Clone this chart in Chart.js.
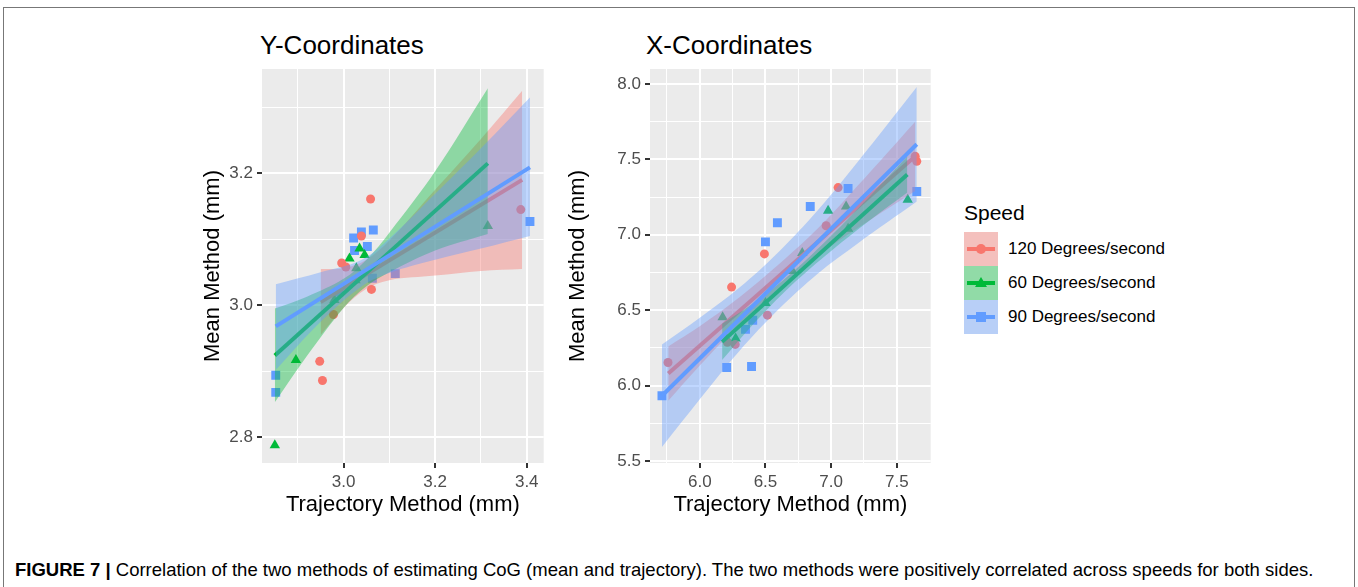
<!DOCTYPE html>
<html>
<head>
<meta charset="utf-8">
<script src="https://cdn.jsdelivr.net/npm/chart.js@4.4.0/dist/chart.umd.min.js"></script>
<style>
  body { margin: 0; width: 1358px; height: 587px; background: #fff; position: relative; overflow: hidden;
         font-family: 'Liberation Sans', Arial, sans-serif; }
  #frame { position: absolute; left: 3px; top: 7px; width: 1352px; height: 590px; border: 1px solid #777; box-sizing: border-box; }
  .ptitle { position: absolute; font-size: 26px; line-height: 1; color: #000; }
  canvas { position: absolute; }
  #legend { position: absolute; left: 964px; top: 200px; }
  #legend .ltitle { font-size: 21px; line-height: 26px; height: 32px; color: #000; }
  #legend .item { position: relative; height: 34px; }
  #legend .key { position: absolute; left: 0; top: 0; width: 34px; height: 34px; background: #F2F2F2; }
  #legend .key .fillbox { position: absolute; left: 0; top: 0; width: 34px; height: 34px; }
  #legend .key .kline { position: absolute; left: 3px; top: 15px; width: 28px; height: 4px; }
  #legend .ltext { position: absolute; left: 44px; top: 0; line-height: 34px; font-size: 17px; color: #000; white-space: nowrap; }
  #caption { position: absolute; left: 15px; top: 561px; font-size: 18.5px; line-height: 1; color: #000; white-space: nowrap; }
</style>
</head>
<body>
<div id="frame"></div>
<div class="ptitle" style="left:260px;top:32px">Y-Coordinates</div>
<div class="ptitle" style="left:646px;top:32px">X-Coordinates</div>
<canvas id="leftChart" width="370" height="458" style="left:180px;top:60px"></canvas>
<canvas id="rightChart" width="392" height="458" style="left:545px;top:60px"></canvas>
<div id="legend"></div>
<div id="caption"><b>FIGURE 7 |</b> Correlation of the two methods of estimating CoG (mean and trajectory). The two methods were positively correlated across speeds for both sides.</div>

<script>
// Series order: 120, 60, 90 Degrees/second
const speedLabels = ['120 Degrees/second', '60 Degrees/second', '90 Degrees/second'];
const speedColors = ['#F8766D', '#00BA38', '#619CFF'];
const speedFills = ['rgba(248,118,109,0.4)', 'rgba(0,186,56,0.4)', 'rgba(97,156,255,0.4)'];
const speedShapes = ['circle', 'triangle', 'rect'];
const shapeRadius = [4.5, 6, 6.3];

// --- Y-Coordinates panel ---
const y120X = [3.059, 2.948, 2.954, 3.387, 3.061, 2.978, 2.996, 3.005, 3.039];
const y120Y = [3.161, 2.915, 2.886, 3.145, 3.024, 2.986, 3.064, 3.058, 3.105];
const y60X = [2.850, 2.896, 3.315, 3.035, 3.013, 3.028, 3.046, 3.026, 2.980];
const y60Y = [2.788, 2.917, 3.120, 3.086, 3.071, 3.056, 3.076, 3.038, 3.008];
const y90X = [2.852, 2.852, 3.022, 3.039, 3.065, 3.024, 3.052, 3.113, 3.063, 3.407, 2.990];
const y90Y = [2.894, 2.868, 3.102, 3.111, 3.114, 3.083, 3.089, 3.048, 3.041, 3.127, 3.020];

const yFit120X = [2.95, 3.39], yFit120Y = [3.005, 3.19];
const yFit60X = [2.85, 3.315], yFit60Y = [2.924, 3.215];
const yFit90X = [2.852, 3.407], yFit90Y = [2.968, 3.209];

const yBand120X = [2.95, 3.0, 3.05, 3.1, 3.2, 3.3, 3.39];
const yBand120Hi = [3.055, 3.056, 3.069, 3.098, 3.175, 3.252, 3.325];
const yBand120Lo = [2.955, 2.996, 3.025, 3.038, 3.045, 3.052, 3.055];
const yBand60X = [2.85, 2.92, 3.0, 3.05, 3.1, 3.2, 3.315];
const yBand60Hi = [2.995, 3.013, 3.040, 3.069, 3.110, 3.203, 3.329];
const yBand60Lo = [2.853, 2.923, 2.996, 3.029, 3.050, 3.083, 3.108];
const yBand90X = [2.852, 2.95, 3.04, 3.1, 3.2, 3.3, 3.407];
const yBand90Hi = [3.032, 3.050, 3.069, 3.101, 3.169, 3.238, 3.315];
const yBand90Lo = [2.902, 2.975, 3.029, 3.049, 3.069, 3.086, 3.105];

const yPanelXMajor = [3.0, 3.2, 3.4], yPanelXMinor = [2.9, 3.1, 3.3];
const yPanelYMajor = [2.8, 3.0, 3.2], yPanelYMinor = [2.9, 3.1, 3.3];

// --- X-Coordinates panel ---
const x120X = [5.758, 6.242, 6.492, 6.515, 6.210, 6.270, 7.053, 6.962, 7.652, 7.640];
const x120Y = [6.153, 6.653, 6.873, 6.467, 6.287, 6.273, 7.313, 7.060, 7.487, 7.520];
const x60X = [6.174, 6.205, 6.273, 6.500, 6.705, 6.977, 7.114, 7.129, 7.583, 6.780];
const x60Y = [6.453, 6.307, 6.313, 6.547, 6.760, 7.160, 7.187, 7.040, 7.233, 6.880];
const x90X = [5.712, 6.205, 6.394, 6.348, 6.403, 6.500, 6.591, 6.841, 7.129, 7.652];
const x90Y = [5.933, 6.120, 6.127, 6.373, 6.433, 6.953, 7.080, 7.187, 7.307, 7.287];

const xFit120X = [5.76, 7.64], xFit120Y = [6.08, 7.52];
const xFit60X = [6.17, 7.58], xFit60Y = [6.29, 7.40];
const xFit90X = [5.712, 7.652], xFit90Y = [5.933, 7.60];

const xBand120X = [5.76, 6.0, 6.3, 6.6, 6.9, 7.2, 7.64];
const xBand120Hi = [6.26, 6.394, 6.584, 6.803, 7.043, 7.323, 7.75];
const xBand120Lo = [5.90, 6.134, 6.404, 6.643, 6.863, 7.043, 7.29];
const xBand60X = [6.17, 6.4, 6.7, 7.0, 7.3, 7.58];
const xBand60Hi = [6.41, 6.541, 6.747, 6.993, 7.26, 7.52];
const xBand60Lo = [6.17, 6.401, 6.667, 6.893, 7.10, 7.28];
const xBand90X = [5.712, 6.0, 6.3, 6.6, 6.9, 7.2, 7.652];
const xBand90Hi = [6.273, 6.450, 6.648, 6.886, 7.164, 7.481, 7.980];
const xBand90Lo = [5.593, 5.910, 6.228, 6.506, 6.744, 6.941, 7.220];

const xPanelXMajor = [6.0, 6.5, 7.0, 7.5], xPanelXMinor = [5.75, 6.25, 6.75, 7.25];
const xPanelYMajor = [5.5, 6.0, 6.5, 7.0, 7.5, 8.0], xPanelYMinor = [5.75, 6.25, 6.75, 7.25, 7.75];

const FONT = "'Liberation Sans', Arial, sans-serif";

function pts(xs, ys) {
    return xs.map((x, i) => ({ x: x, y: ys[i] }));
}

function buildDatasets(groups) {
    const ds = [];
    // points sit under the smooths
    groups.forEach((g, k) => {
        ds.push({
            data: pts(g.px, g.py),
            showLine: false,
            pointStyle: speedShapes[k],
            pointRadius: shapeRadius[k],
            pointBackgroundColor: speedColors[k],
            pointBorderWidth: 0,
            borderColor: 'transparent',
            borderWidth: 0,
            order: 20
        });
    });
    groups.forEach((g, k) => {
        const base = 12 - 3 * k;
        ds.push({
            data: pts(g.bx, g.lo),
            borderWidth: 0, borderColor: 'transparent',
            pointRadius: 0, tension: 0.35, fill: false,
            order: base
        });
        ds.push({
            data: pts(g.bx, g.hi),
            borderWidth: 0, borderColor: 'transparent',
            pointRadius: 0, tension: 0.35,
            fill: '-1', backgroundColor: speedFills[k],
            order: base - 1
        });
        ds.push({
            data: pts(g.fx, g.fy),
            borderWidth: 4, borderColor: speedColors[k],
            pointRadius: 0, tension: 0, fill: false,
            order: base - 2
        });
    });
    return ds;
}

function axis(opts) {
    const all = opts.major.concat(opts.minor).sort((a, b) => a - b);
    const isMajor = v => opts.major.some(m => Math.abs(m - v) < 1e-9);
    return {
        type: 'linear',
        position: opts.position,
        min: opts.min,
        max: opts.max,
        afterBuildTicks: a => { a.ticks = all.map(v => ({ value: v })); },
        afterFit: a => {
            if (opts.position === 'left') a.width = opts.size; else a.height = opts.size;
            a.paddingTop = 0; a.paddingBottom = 0; a.paddingLeft = 0; a.paddingRight = 0;
        },
        border: { display: false },
        grid: {
            color: '#FFFFFF',
            lineWidth: c => (c.tick && isMajor(c.tick.value)) ? 2 : 1,
            drawTicks: true,
            tickLength: 5,
            tickWidth: 2,
            tickColor: c => (c.tick && isMajor(c.tick.value)) ? '#333333' : 'rgba(0,0,0,0)'
        },
        ticks: {
            color: '#4D4D4D',
            font: { family: FONT, size: 17 },
            padding: 4,
            autoSkip: false,
            maxRotation: 0,
            callback: v => isMajor(v) ? v.toFixed(1) : ''
        },
        title: {
            display: true,
            text: opts.title,
            color: '#000',
            font: { family: FONT, size: 22 },
            padding: opts.titlePad
        }
    };
}

const panelBg = {
    id: 'panelBg',
    beforeDraw(chart) {
        const a = chart.chartArea;
        chart.ctx.save();
        chart.ctx.fillStyle = '#EBEBEB';
        chart.ctx.fillRect(a.left, a.top, a.right - a.left, a.bottom - a.top);
        chart.ctx.restore();
    }
};

function makePanel(id, groups, xs, ys, yAxisWidth) {
    new Chart(document.getElementById(id), {
        type: 'line',
        data: { datasets: buildDatasets(groups) },
        options: {
            responsive: false,
            animation: false,
            layout: { padding: { top: 9, right: 5, left: 0, bottom: 0 } },
            plugins: { legend: { display: false }, tooltip: { enabled: false } },
            scales: {
                x: axis(Object.assign({ position: 'bottom', size: 55, title: 'Trajectory Method (mm)', titlePad: 0 }, xs)),
                y: axis(Object.assign({ position: 'left', size: yAxisWidth, title: 'Mean Method (mm)', titlePad: 20 }, ys))
            }
        },
        plugins: [panelBg]
    });
}

makePanel('leftChart', [
    { px: y120X, py: y120Y, fx: yFit120X, fy: yFit120Y, bx: yBand120X, hi: yBand120Hi, lo: yBand120Lo },
    { px: y60X, py: y60Y, fx: yFit60X, fy: yFit60Y, bx: yBand60X, hi: yBand60Hi, lo: yBand60Lo },
    { px: y90X, py: y90Y, fx: yFit90X, fy: yFit90Y, bx: yBand90X, hi: yBand90Hi, lo: yBand90Lo }
], { min: 2.822, max: 3.437, major: yPanelXMajor, minor: yPanelXMinor },
   { min: 2.761, max: 3.358, major: yPanelYMajor, minor: yPanelYMinor }, 82);

makePanel('rightChart', [
    { px: x120X, py: x120Y, fx: xFit120X, fy: xFit120Y, bx: xBand120X, hi: xBand120Hi, lo: xBand120Lo },
    { px: x60X, py: x60Y, fx: xFit60X, fy: xFit60Y, bx: xBand60X, hi: xBand60Hi, lo: xBand60Lo },
    { px: x90X, py: x90Y, fx: xFit90X, fy: xFit90Y, bx: xBand90X, hi: xBand90Hi, lo: xBand90Lo }
], { min: 5.621, max: 7.758, major: xPanelXMajor, minor: xPanelXMinor },
   { min: 5.487, max: 8.099, major: xPanelYMajor, minor: xPanelYMinor }, 105);

// Legend (ggplot style keys)
function markerHtml(shape, color) {
    if (shape === 'circle') {
        return `<div style="position:absolute;left:12px;top:12px;width:10px;height:10px;border-radius:50%;background:${color}"></div>`;
    }
    if (shape === 'triangle') {
        return `<div style="position:absolute;left:11px;top:11px;width:0;height:0;border-left:6px solid transparent;border-right:6px solid transparent;border-bottom:10px solid ${color}"></div>`;
    }
    return `<div style="position:absolute;left:12px;top:12px;width:10px;height:10px;background:${color}"></div>`;
}

const legendEl = document.getElementById('legend');
let html = '<div class="ltitle">Speed</div>';
speedLabels.forEach((label, k) => {
    html += `<div class="item">
        <div class="key">
          <div class="fillbox" style="background:${speedFills[k]}"></div>
          <div class="kline" style="background:${speedColors[k]}"></div>
          ${markerHtml(speedShapes[k], speedColors[k])}
        </div>
        <div class="ltext">${label}</div>
      </div>`;
});
legendEl.innerHTML = html;
</script>
</body>
</html>
